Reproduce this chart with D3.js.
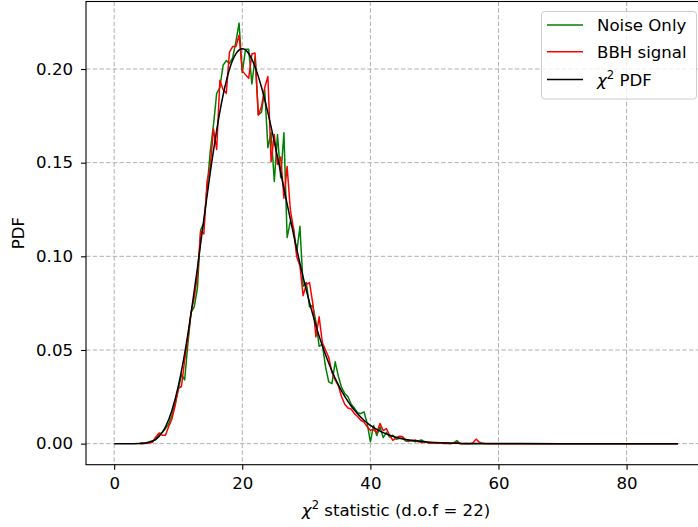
<!DOCTYPE html>
<html>
<head>
<meta charset="utf-8">
<script src="https://cdn.jsdelivr.net/npm/d3@7"></script>
<style>
  html, body { margin: 0; padding: 0; background: #ffffff; }
  svg { display: block; font-family: "DejaVu Sans", sans-serif; }
</style>
</head>
<body>
<svg id="chart" width="698" height="527"></svg>
<script>
// Histogram bin centres (chi-square statistic) shared by both measured series
const binX = d3.range(4, 58.01, 0.5);

// Normalised histogram, noise-only segments
const noiseOnly = [
  0.0000, 0.0003, 0.0005, 0.0010, 0.0015, 0.0022, 0.0049, 0.0060, 0.0080, 0.0105,
  0.0150, 0.0210, 0.0285, 0.0370, 0.0340, 0.0530, 0.0700, 0.0730, 0.0830, 0.1140,
  0.1180, 0.1360, 0.1560, 0.1700, 0.1870, 0.1900, 0.2020, 0.2045, 0.2030, 0.2060,
  0.2145, 0.2245, 0.1980, 0.2105, 0.2105, 0.1920, 0.2065, 0.1755, 0.1770, 0.1890,
  0.1580, 0.1660, 0.1400, 0.1650, 0.1420, 0.1660, 0.1100, 0.1185, 0.1150, 0.1020,
  0.1160, 0.0840, 0.0860, 0.0730, 0.0740, 0.0650, 0.0520, 0.0530, 0.0410, 0.0330,
  0.0320, 0.0437, 0.0360, 0.0300, 0.0268, 0.0250, 0.0210, 0.0190, 0.0165, 0.0160,
  0.0170, 0.0108, 0.0010, 0.0097, 0.0043, 0.0090, 0.0032, 0.0060, 0.0035, 0.0045,
  0.0024, 0.0028, 0.0030, 0.0014, 0.0012, 0.0018, 0.0010, 0.0016, 0.0020, 0.0008,
  0.0006, 0.0004, 0.0005, 0.0003, 0.0002, 0.0003, 0.0002, 0.0001, 0.0004, 0.0016,
  0.0000, 0.0000, 0.0000, 0.0000, 0.0000, 0.0000, 0.0000, 0.0000, 0.0000
];

// Normalised histogram, segments with an injected BBH signal
const bbhSignal = [
  0.0004, 0.0000, 0.0002, 0.0004, 0.0008, 0.0036, 0.0057, 0.0045, 0.0045, 0.0090,
  0.0130, 0.0200, 0.0295, 0.0305, 0.0446, 0.0560, 0.0700, 0.0780, 0.0900, 0.1135,
  0.1120, 0.1400, 0.1480, 0.1680, 0.1570, 0.1940, 0.1890, 0.1870, 0.2090, 0.2120,
  0.2120, 0.2180, 0.1990, 0.1970, 0.1950, 0.2080, 0.2085, 0.1755, 0.1800, 0.1900,
  0.1960, 0.1505, 0.1650, 0.1490, 0.1530, 0.1310, 0.1480, 0.1250, 0.1145, 0.0998,
  0.0950, 0.0790, 0.0850, 0.0860, 0.0750, 0.0570, 0.0677, 0.0540, 0.0500, 0.0460,
  0.0380, 0.0340, 0.0310, 0.0250, 0.0210, 0.0190, 0.0185, 0.0160, 0.0145, 0.0125,
  0.0115, 0.0090, 0.0072, 0.0075, 0.0060, 0.0108, 0.0070, 0.0080, 0.0045, 0.0018,
  0.0030, 0.0040, 0.0038, 0.0020, 0.0018, 0.0014, 0.0020, 0.0010, 0.0006, 0.0012,
  0.0004, 0.0002, 0.0005, 0.0002, 0.0003, 0.0001, 0.0002, 0.0001, 0.0002, 0.0008,
  0.0001, 0.0000, 0.0001, 0.0000, 0.0003, 0.0024, 0.0008, 0.0002, 0.0000
];

// Reference chi-square density curve
const pdfX = [0, 1, 2, 3, 4, 5, 6, 7, 8, 9, 10, 11, 12, 13, 14, 15, 16, 17, 18, 19,
  20, 21, 22, 23, 24, 25, 26, 27, 28, 29, 30, 31, 32, 33, 34, 35, 36, 37, 38, 39,
  40, 42, 44, 46, 48, 50, 55, 60, 70, 80, 88];
const pdfY = [0, 0, 0, 0.00001, 0.00006, 0.00036, 0.00137, 0.00387, 0.0089, 0.01756,
  0.03056, 0.0481, 0.0696, 0.0939, 0.1197, 0.1447, 0.1673, 0.1860, 0.1999, 0.2081,
  0.2108, 0.2083, 0.2011, 0.1903, 0.1767, 0.1612, 0.1447, 0.1280, 0.1117, 0.0962,
  0.0819, 0.0690, 0.0574, 0.0474, 0.0388, 0.0314, 0.0252, 0.0201, 0.0160, 0.0125,
  0.0098, 0.00588, 0.00344, 0.00197, 0.00111, 0.00062, 0.00013, 0.00003, 0, 0, 0];

const xTicks = [0, 20, 40, 60, 80];
const yTicks = [0.00, 0.05, 0.10, 0.15, 0.20];

const seriesNames = ["Noise Only", "BBH signal", "PDF"];
const seriesColors = ["#008000", "#ff0000", "#000000"];

// ---- layout ----
const svg = d3.select("#chart");
const W = 698, H = 527;
const plot = { left: 86, right: 706, top: 1.5, bottom: 464.7 };
const fontSize = 16.6;

svg.append("rect").attr("width", W).attr("height", H).attr("fill", "#ffffff");

const x = d3.scaleLinear().domain([-4.4, 92.4]).range([plot.left, plot.right]);
const y = d3.scaleLinear().domain([-0.01124, 0.23604]).range([plot.bottom, plot.top]);

svg.append("defs").append("clipPath").attr("id", "plotclip")
  .append("rect")
  .attr("x", plot.left).attr("y", plot.top)
  .attr("width", plot.right - plot.left).attr("height", plot.bottom - plot.top);

// grid
const grid = svg.append("g").attr("stroke", "#b0b0b0").attr("stroke-width", 1)
  .attr("stroke-dasharray", "4.5,2.2").attr("fill", "none");
xTicks.forEach(t => grid.append("line")
  .attr("x1", x(t)).attr("x2", x(t)).attr("y1", plot.top).attr("y2", plot.bottom));
yTicks.forEach(t => grid.append("line")
  .attr("x1", plot.left).attr("x2", plot.right).attr("y1", y(t)).attr("y2", y(t)));

// data lines
const lines = svg.append("g").attr("clip-path", "url(#plotclip)");
const line = d3.line().x(d => x(d[0])).y(d => y(d[1]));

const noisePts = binX.map((v, i) => [v, noiseOnly[i]]).concat([[88, 0]]);
const bbhPts = binX.map((v, i) => [v, bbhSignal[i]]).concat([[88, 0]]);
const pdfPts = pdfX.map((v, i) => [v, pdfY[i]]);

lines.append("path").datum(noisePts).attr("d", line)
  .attr("fill", "none").attr("stroke", seriesColors[0]).attr("stroke-width", 1.5)
  .attr("stroke-linejoin", "round");
lines.append("path").datum(bbhPts).attr("d", line)
  .attr("fill", "none").attr("stroke", seriesColors[1]).attr("stroke-width", 1.5)
  .attr("stroke-linejoin", "round");
lines.append("path").datum(pdfPts).attr("d", d3.line().curve(d3.curveMonotoneX)
    .x(d => x(d[0])).y(d => y(d[1])))
  .attr("fill", "none").attr("stroke", seriesColors[2]).attr("stroke-width", 1.5);

// axes
const xAxis = d3.axisBottom(x).tickValues(xTicks).tickFormat(d3.format("d"))
  .tickSize(5).tickPadding(8);
const yAxis = d3.axisLeft(y).tickValues(yTicks).tickFormat(d3.format(".2f"))
  .tickSize(5).tickPadding(8);

const gx = svg.append("g").attr("transform", `translate(0,${plot.bottom})`).call(xAxis);
const gy = svg.append("g").attr("transform", `translate(${plot.left},0)`).call(yAxis);
[gx, gy].forEach(g => {
  g.select(".domain").remove();
  g.selectAll("text").attr("font-family", "DejaVu Sans, sans-serif")
    .attr("font-size", fontSize).attr("fill", "#000");
  g.selectAll("line").attr("stroke", "#000").attr("stroke-width", 1.1);
});

// frame
svg.append("rect")
  .attr("x", plot.left).attr("y", plot.top)
  .attr("width", plot.right - plot.left).attr("height", plot.bottom - plot.top)
  .attr("fill", "none").attr("stroke", "#000").attr("stroke-width", 1.1);

// axis titles
const xt = svg.append("text")
  .attr("x", (plot.left + plot.right) / 2).attr("y", 516)
  .attr("text-anchor", "middle").attr("font-size", fontSize).attr("fill", "#000");
xt.append("tspan").attr("font-style", "italic").text("χ");
xt.append("tspan").attr("font-size", fontSize * 0.7).attr("dy", -7).text("2");
xt.append("tspan").attr("dy", 7).text(" statistic (d.o.f = 22)");

svg.append("text")
  .attr("transform", `translate(24,${(plot.top + plot.bottom) / 2}) rotate(-90)`)
  .attr("text-anchor", "middle").attr("font-size", fontSize).attr("fill", "#000")
  .text("PDF");

// legend
const lg = svg.append("g");
lg.append("rect")
  .attr("x", 541.5).attr("y", 11.5).attr("width", 155).attr("height", 87.5)
  .attr("rx", 3).attr("fill", "#ffffff").attr("fill-opacity", 0.8)
  .attr("stroke", "#cccccc").attr("stroke-width", 1);
const rowY = [25, 51.7, 79.5];
seriesNames.forEach((name, i) => {
  lg.append("line")
    .attr("x1", 547).attr("x2", 583).attr("y1", rowY[i]).attr("y2", rowY[i])
    .attr("stroke", seriesColors[i]).attr("stroke-width", 1.5);
  const t = lg.append("text").attr("x", 597).attr("y", rowY[i] + 6)
    .attr("font-size", fontSize).attr("fill", "#000");
  if (i === 2) {
    t.append("tspan").attr("font-style", "italic").text("χ");
    t.append("tspan").attr("font-size", fontSize * 0.7).attr("dy", -7).text("2");
    t.append("tspan").attr("dy", 7).text(" " + name);
  } else {
    t.text(name);
  }
});
</script>
</body>
</html>
